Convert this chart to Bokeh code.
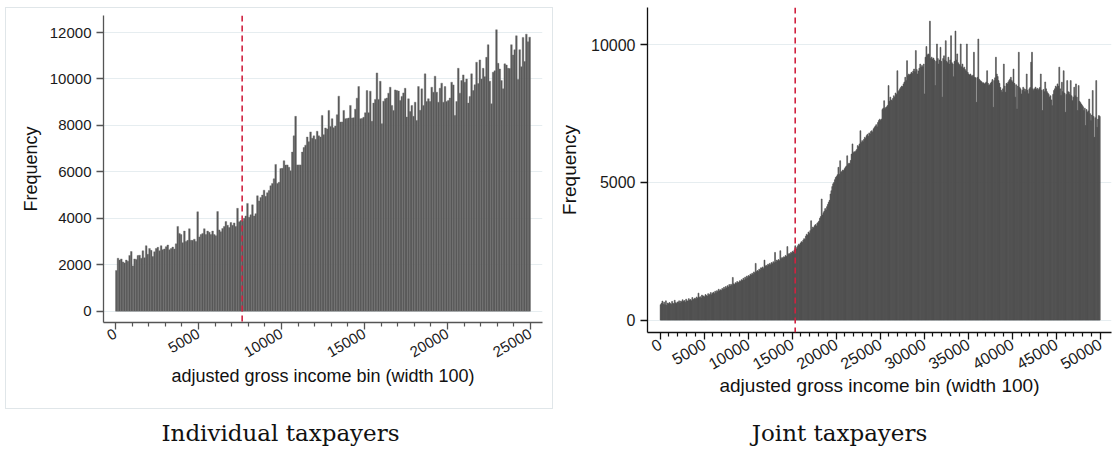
import math
import numpy as np
from bokeh.plotting import figure
from bokeh.models import Range1d, FixedTicker, Span, ColumnDataSource, NumeralTickFormatter
from bokeh.layouts import row, column
from bokeh.embed import file_html
from bokeh.resources import INLINE
from bokeh.core.properties import value

BIN_WIDTH = 100

# Individual taxpayers: counts per AGI bin of width 100 (bins 0..249)
individual_counts = [
    1750, 2280, 2200, 2250, 2120, 2080, 2200, 2150, 2400, 2570,
    1950, 2250, 2230, 2400, 2410, 2280, 2600, 2300, 2820, 2450,
    2700, 2620, 2350, 2560, 2700, 2750, 2600, 2820, 2650, 2680,
    2780, 2850, 2650, 2700, 2760, 2680, 2900, 3650, 3350, 3300,
    2950, 3450, 3000, 3050, 3550, 3050, 3050, 3100, 3000, 4280,
    3200, 3300, 3350, 3550, 3300, 3450, 3400, 3300, 3450, 3300,
    3250, 4290, 3500, 3420, 3560, 3650, 3860, 3700, 3600, 3820,
    3700, 3800, 3650, 4430, 3850, 3900, 3880, 4000, 4100, 4640,
    4050, 4150, 4580, 4100, 4200, 4970, 4750, 4900, 5000, 5210,
    4950, 5100, 5200, 5400, 5500, 5700, 6320, 5500, 5550, 6140,
    6150, 6480, 6290, 6300, 6200, 6050, 6850, 7550, 8390, 6300,
    6300, 6300, 6850, 7050, 7150, 7500, 7300, 7720, 7450, 7550,
    7400, 7750, 7550, 7500, 8430, 7600, 7890, 7850, 8645, 7950,
    8290, 7900, 7970, 8460, 9260, 8145, 8150, 8645, 8290, 8300,
    8320, 8860, 8320, 8330, 8700, 9175, 9675, 8290, 8300, 8350,
    8545, 9500, 8550, 9475, 8175, 8960, 9120, 10260, 9120, 9900,
    8075, 9045, 9150, 9180, 9390, 9645, 8860, 8645, 9530, 9500,
    9480, 9075, 9250, 9400, 9600, 8360, 9145, 8600, 8860, 8390,
    9000, 8215, 9675, 8650, 9575, 8860, 10220, 9030, 9150, 9030,
    9645, 9430, 10120, 9430, 9000, 9600, 9820, 9000, 9675, 9030,
    9075, 9180, 9860, 9745, 8430, 9030, 10460, 9390, 9930, 10175,
    9860, 10000, 8960, 9250, 10220, 9500, 9750, 10720, 9800, 10820,
    10000, 10460, 10100, 10930, 11475, 9900, 8930, 10290, 10350, 12120,
    10675, 10430, 9930, 9575, 10650, 10600, 10460, 10450, 11475, 11030,
    11260, 11860, 9975, 11260, 10530, 11790, 10750, 11930, 11600, 11800,
]

# Joint taxpayers: counts per AGI bin of width 100 (bins 0..499)
joint_counts = [
    560, 610, 690, 580, 650, 560, 700, 540, 620, 590,
    640, 600, 570, 680, 610, 590, 720, 630, 600, 660,
    650, 700, 620, 690, 660, 740, 680, 710, 650, 760,
    700, 690, 780, 720, 750, 700, 820, 740, 770, 800,
    760, 840, 790, 980, 820, 850, 800, 910, 860, 880,
    840, 930, 890, 870, 960, 900, 940, 1000, 920, 980,
    1010, 960, 1050, 990, 1070, 1030, 1120, 1060, 1100, 1080,
    1150, 1110, 1190, 1130, 1220, 1170, 1250, 1200, 1290, 1240,
    1300, 1260, 1550, 1320, 1290, 1360, 1330, 1400, 1350, 1380,
    1430, 1400, 1470, 1440, 1520, 1460, 1560, 1500, 1600, 1540,
    1620, 1580, 1670, 1640, 1700, 1660, 1750, 1710, 2060, 1760,
    1800, 1770, 1850, 1820, 1900, 1880, 1930, 1870, 2180, 1960,
    1990, 1950, 2030, 2000, 2060, 2010, 2090, 2050, 2120, 2080,
    2460, 2110, 2180, 2150, 2200, 2160, 2520, 2230, 2270, 2240,
    2300, 2280, 2350, 2310, 2670, 2380, 2420, 2390, 2460, 2440,
    2500, 2470, 2550, 2700, 2580, 2640, 2700, 2760, 2730, 2800,
    2850, 2820, 2900, 2960, 2930, 3050, 3120, 3080, 3200, 3150,
    3250, 3610, 3300, 3380, 3350, 3430, 3470, 3420, 3520, 3550,
    3600, 3700, 3760, 4400, 3820, 3900, 3960, 4050, 4000, 4120,
    4200, 4280, 4350, 4580, 4700, 4850, 4950, 5000, 5100, 5180,
    5220, 5280, 5550, 5300, 5790, 5370, 5400, 5450, 5430, 5500,
    5550, 5600, 5970, 5650, 5700, 5680, 5800, 6030, 6400, 6080,
    6120, 6100, 6150, 6200, 6340, 6300, 6400, 6880, 6450, 6520,
    6480, 6560, 6640, 6600, 6700, 6750, 6680, 6800, 6760, 6850,
    6880, 6820, 6950, 7000, 7050, 7100, 7020, 7180, 7250, 7300,
    7250, 7300, 7650, 7700, 7970, 7680, 7720, 7750, 7800, 8520,
    7950, 8100, 8000, 7970, 8050, 8150, 8100, 8250, 8200, 9060,
    8300, 8340, 8400, 8450, 8500, 8480, 8580, 8650, 8820, 8700,
    9425, 8880, 8940, 8900, 8940, 9000, 8960, 9050, 9120, 9020,
    9790, 9100, 8940, 9050, 9150, 9300, 9190, 9250, 9200, 9300,
    8215, 9550, 9940, 9620, 9670, 9650, 10860, 9500, 9550, 9480,
    9520, 9450, 8520, 9400, 10030, 9500, 9300, 9450, 9910, 9400,
    8100, 9500, 9600, 9450, 10150, 9400, 9350, 9550, 9300, 9450,
    10330, 9350, 9300, 8840, 9400, 10500, 9450, 9670, 9350, 9300,
    9250, 10030, 9200, 9300, 9150, 9190, 9100, 9050, 10030, 9000,
    8940, 8900, 8940, 8880, 8850, 8900, 9730, 8820, 8800, 7910,
    8820, 10210, 8750, 8700, 8680, 8650, 8600, 8620, 8580, 8600,
    8650, 9060, 8600, 8520, 8550, 8600, 8650, 8740, 7730, 8700,
    8800, 9550, 8940, 8850, 8700, 8600, 8450, 8350, 8280, 8400,
    9300, 8500, 8280, 8600, 8580, 8650, 8700, 8750, 8820, 8700,
    8650, 9120, 8600, 8100, 8550, 7670, 8500, 9730, 8450, 8400,
    8215, 8350, 8460, 8400, 8300, 8380, 8940, 8350, 8220, 8400,
    8450, 9370, 9730, 8400, 8340, 8400, 8460, 8380, 8420, 8350,
    8400, 8450, 8940, 8350, 7610, 8380, 8300, 8650, 8400, 8300,
    8250, 8200, 8100, 8150, 8000, 7790, 8200, 8340, 8400, 8500,
    8450, 8580, 8500, 9190, 8400, 8160, 8640, 8300, 9060, 8250,
    7550, 8200, 8700, 8300, 8280, 8200, 8700, 8150, 7970, 8100,
    8460, 8150, 8580, 8100, 7610, 8520, 7950, 7900, 7850, 7800,
    7750, 7610, 7700, 7070, 7650, 7550, 7600, 8030, 7500, 7245,
    7450, 8340, 7400, 6640, 7350, 8700, 7000, 7300, 7430, 7400,
]

individual_threshold = 7630
joint_threshold = 15340

individual_xticks = [0, 5000, 10000, 15000, 20000, 25000]
individual_yticks = [0, 2000, 4000, 6000, 8000, 10000, 12000]
joint_xticks = [0, 5000, 10000, 15000, 20000, 25000, 30000, 35000, 40000, 45000, 50000]
joint_yticks = [0, 5000, 10000]
MINOR_STEP = 1000

x_label = "adjusted gross income bin (width 100)"
y_label = "Frequency"
captions = ["Individual taxpayers", "Joint taxpayers"]

SANS = "Liberation Sans"
GRID = "#e6edf0"
RED = "#d0213f"


def make_panel(counts, threshold, xticks, yticks, xr, yr, width, height, borders,
               tick_fs, label_fs, axis_color, fill, line, lw, xstand, ystand, **kw):
    ml, mr, mt, mb = borders
    p = figure(width=width, height=height, x_range=Range1d(*xr), y_range=Range1d(*yr),
               output_backend="svg", toolbar_location=None,
               min_border_left=ml, min_border_right=mr, min_border_top=mt, min_border_bottom=mb,
               **kw)
    starts = np.arange(len(counts)) * BIN_WIDTH
    src = ColumnDataSource(dict(left=starts, right=starts + BIN_WIDTH, top=counts))
    p.quad(left="left", right="right", bottom=0, top="top", source=src,
           fill_color=fill, line_color=line, line_width=lw)
    p.add_layout(Span(location=threshold, dimension="height", line_color=RED,
                      line_dash="6 4", line_width=1.6))

    minor = [t for t in range(0, xticks[-1] + 1, MINOR_STEP) if t not in xticks]
    p.xaxis.ticker = FixedTicker(ticks=xticks, minor_ticks=minor)
    p.yaxis.ticker = FixedTicker(ticks=yticks)
    p.xaxis.formatter = NumeralTickFormatter(format="0")
    p.yaxis.formatter = NumeralTickFormatter(format="0")
    p.xgrid.visible = False
    p.ygrid.ticker = FixedTicker(ticks=yticks)
    p.ygrid.grid_line_color = GRID
    p.ygrid.grid_line_width = 1.2
    p.outline_line_color = None

    for ax in (p.xaxis, p.yaxis):
        ax.axis_line_color = axis_color
        ax.axis_line_width = 1.3
        ax.major_tick_line_color = axis_color
        ax.major_tick_line_width = 1.3
        ax.major_tick_out = 7
        ax.major_tick_in = 0
        ax.major_label_text_font = SANS
        ax.major_label_text_font_size = f"{tick_fs}px"
        ax.major_label_text_color = "#1a1a1a"
        ax.axis_label_text_font = SANS
        ax.axis_label_text_font_size = f"{label_fs}px"
        ax.axis_label_text_font_style = "normal"
        ax.axis_label_text_color = "#111111"
    p.xaxis.minor_tick_line_color = axis_color
    p.xaxis.minor_tick_line_width = 1.2
    p.xaxis.minor_tick_out = 4
    p.xaxis.minor_tick_in = 0
    p.yaxis.minor_tick_line_color = None
    p.xaxis.major_label_orientation = math.pi / 6
    p.xaxis.major_label_standoff = 3
    p.yaxis.major_label_standoff = 5
    p.xaxis.axis_label = x_label
    p.yaxis.axis_label = y_label
    p.xaxis.axis_label_standoff = xstand
    p.yaxis.axis_label_standoff = ystand
    return p


# Frames of plots in one row share top/bottom border sizes, so both use 7 / 88
left = make_panel(individual_counts, individual_threshold, individual_xticks, individual_yticks,
                  (-723, 25723), (-487, 12733), 548, 402, (97, 12, 7, 88),
                  15, 18, "#555555", "#565656", "#707070", 0.4, 1, 6,
                  margin=(7, 3, 0, 5), styles={"border": "1px solid #e0e6e9"})

right = make_panel(joint_counts, joint_threshold, joint_xticks, joint_yticks,
                   (-1443, 51284), (-450, 11356), 558, 420, (91, 3, 7, 88),
                   16, 19, "#111111", "#4e4e4e", "#4e4e4e", 0.6, -3, 8)

cap = figure(width=1116, height=30, x_range=Range1d(0, 1116), y_range=Range1d(0, 30),
             output_backend="svg", toolbar_location=None, x_axis_type=None, y_axis_type=None,
             min_border=0)
cap.outline_line_color = None
cap.grid.visible = False
cap.text(x=[280, 839], y=[18, 18], text=captions, text_font=value("DejaVu Serif"),
         text_font_size="23px", text_align="center", text_baseline="alphabetic",
         text_color="#111111")

layout = column(row(left, right), cap)
open("out.html", "w").write(file_html(layout, INLINE))
